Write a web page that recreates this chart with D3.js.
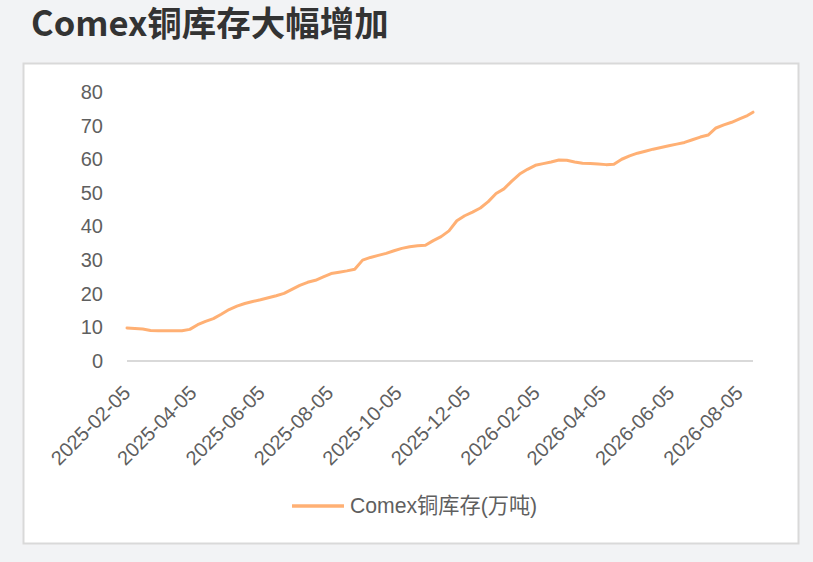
<!DOCTYPE html>
<html lang="zh">
<head>
<meta charset="UTF-8">
<title>Comex铜库存大幅增加</title>
<script src="https://d3js.org/d3.v7.min.js"></script>
<style>
  html, body { margin: 0; padding: 0; background: #f2f3f5; }
  body { font-family: "Liberation Sans", Arial, "Noto Sans CJK SC", sans-serif; }
</style>
</head>
<body>
<svg width="813" height="562"></svg>
<script>
// weekly readings (万吨)
const dates = [
  "2025-02-05","2025-02-12","2025-02-19","2025-02-26","2025-03-05","2025-03-12","2025-03-19","2025-03-26",
  "2025-04-02","2025-04-09","2025-04-16","2025-04-23","2025-04-30","2025-05-07","2025-05-14","2025-05-21",
  "2025-05-28","2025-06-04","2025-06-11","2025-06-18","2025-06-25","2025-07-02","2025-07-09","2025-07-16",
  "2025-07-23","2025-07-30","2025-08-06","2025-08-13","2025-08-20","2025-08-27","2025-09-03","2025-09-10",
  "2025-09-17","2025-09-24","2025-10-01","2025-10-08","2025-10-15","2025-10-22","2025-10-29","2025-11-05",
  "2025-11-12","2025-11-19","2025-11-26","2025-12-03","2025-12-10","2025-12-17","2025-12-24","2025-12-31",
  "2026-01-07","2026-01-14","2026-01-21","2026-01-28","2026-02-04","2026-02-11","2026-02-18","2026-02-25",
  "2026-03-04","2026-03-11","2026-03-18","2026-03-25","2026-04-01","2026-04-08","2026-04-15","2026-04-22",
  "2026-04-29","2026-05-06","2026-05-13","2026-05-20","2026-05-27","2026-06-03","2026-06-10","2026-06-17",
  "2026-06-24","2026-07-01","2026-07-08","2026-07-15","2026-07-22","2026-07-29","2026-08-05","2026-08-12",
  "2026-08-17"
];
const stock = [
  9.8, 9.7, 9.5, 9.1, 9.0, 9.0, 9.0, 9.0,
  9.4, 10.8, 11.8, 12.6, 13.9, 15.3, 16.3, 17.1,
  17.7, 18.2, 18.8, 19.4, 20.1, 21.3, 22.5, 23.4,
  24.0, 25.0, 26.0, 26.4, 26.8, 27.3, 30.0, 30.8,
  31.4, 32.0, 32.8, 33.5, 34.0, 34.3, 34.4, 35.8,
  37.0, 38.7, 41.7, 43.2, 44.3, 45.5, 47.4, 49.8,
  51.2, 53.5, 55.6, 57.0, 58.2, 58.7, 59.2, 59.8,
  59.7, 59.2, 58.8, 58.7, 58.6, 58.4, 58.5, 60.0,
  61.0, 61.8, 62.4, 63.0, 63.5, 64.0, 64.5, 65.0,
  65.8, 66.6, 67.2, 69.3, 70.2, 71.0, 72.0, 73.0,
  74.0
];
const xTicks = ["2025-02-05","2025-04-05","2025-06-05","2025-08-05","2025-10-05","2025-12-05",
                "2026-02-05","2026-04-05","2026-06-05","2026-08-05"];
const yTicks = [0, 10, 20, 30, 40, 50, 60, 70, 80];
const title = "Comex铜库存大幅增加";
const seriesName = "Comex铜库存(万吨)";

const parse = d3.timeParse("%Y-%m-%d");
const data = dates.map((d, i) => ({date: parse(d), value: stock[i]}));

const svg = d3.select("svg");
const lineColor = "#ffb074";
const textColor = "#5f5f5f";

// title
svg.append("text")
  .attr("x", 31).attr("y", 36)
  .attr("font-family", "'Noto Sans CJK SC', sans-serif")
  .attr("font-weight", "bold")
  .attr("font-size", 34.5)
  .attr("fill", "#333")
  .text(title);

// panel
svg.append("rect")
  .attr("x", 23.5).attr("y", 63.5)
  .attr("width", 775).attr("height", 480)
  .attr("fill", "#fff")
  .attr("stroke", "#d9d9d9").attr("stroke-width", 2);

const x = d3.scaleTime()
  .domain([parse("2025-02-05"), parse("2026-08-17")])
  .range([127, 753]);

const y = d3.scaleLinear()
  .domain([0, 80])
  .range([361, 92]);

// Y axis (labels only)
const yAxis = svg.append("g")
  .attr("transform", "translate(103,0)")
  .call(d3.axisLeft(y).tickValues(yTicks).tickSize(0).tickPadding(0));
yAxis.select(".domain").remove();
yAxis.selectAll("text")
  .attr("font-family", "'Liberation Sans', Arial, sans-serif")
  .attr("font-size", 20)
  .attr("fill", textColor);

// X axis
const xAxis = svg.append("g")
  .attr("transform", "translate(0,361)")
  .call(d3.axisBottom(x).tickValues(xTicks.map(parse)).tickSize(0).tickFormat(d3.timeFormat("%Y-%m-%d")));
xAxis.select(".domain")
  .attr("d", `M${x.range()[0]},0H${x.range()[1]}`)
  .attr("stroke", "#d9d9d9").attr("stroke-width", 2);
xAxis.selectAll("text")
  .attr("font-family", "'Liberation Sans', Arial, sans-serif")
  .attr("font-size", 20)
  .attr("fill", textColor)
  .attr("text-anchor", "end")
  .attr("dy", 0)
  .attr("transform", "translate(2,31) rotate(-45)");

// line
svg.append("path")
  .datum(data)
  .attr("fill", "none")
  .attr("stroke", lineColor)
  .attr("stroke-width", 3)
  .attr("stroke-linejoin", "round")
  .attr("stroke-linecap", "round")
  .attr("d", d3.line().x(d => x(d.date)).y(d => y(d.value)));

// legend
const lg = svg.append("g").attr("transform", "translate(292,506)");
lg.append("line")
  .attr("x1", 0).attr("x2", 52)
  .attr("stroke", lineColor).attr("stroke-width", 3.5);
lg.append("text")
  .attr("x", 58).attr("y", 7)
  .attr("font-family", "'Liberation Sans', Arial, 'Noto Sans CJK SC', sans-serif")
  .attr("font-size", 21.2)
  .attr("fill", textColor)
  .text(seriesName);
</script>
</body>
</html>
